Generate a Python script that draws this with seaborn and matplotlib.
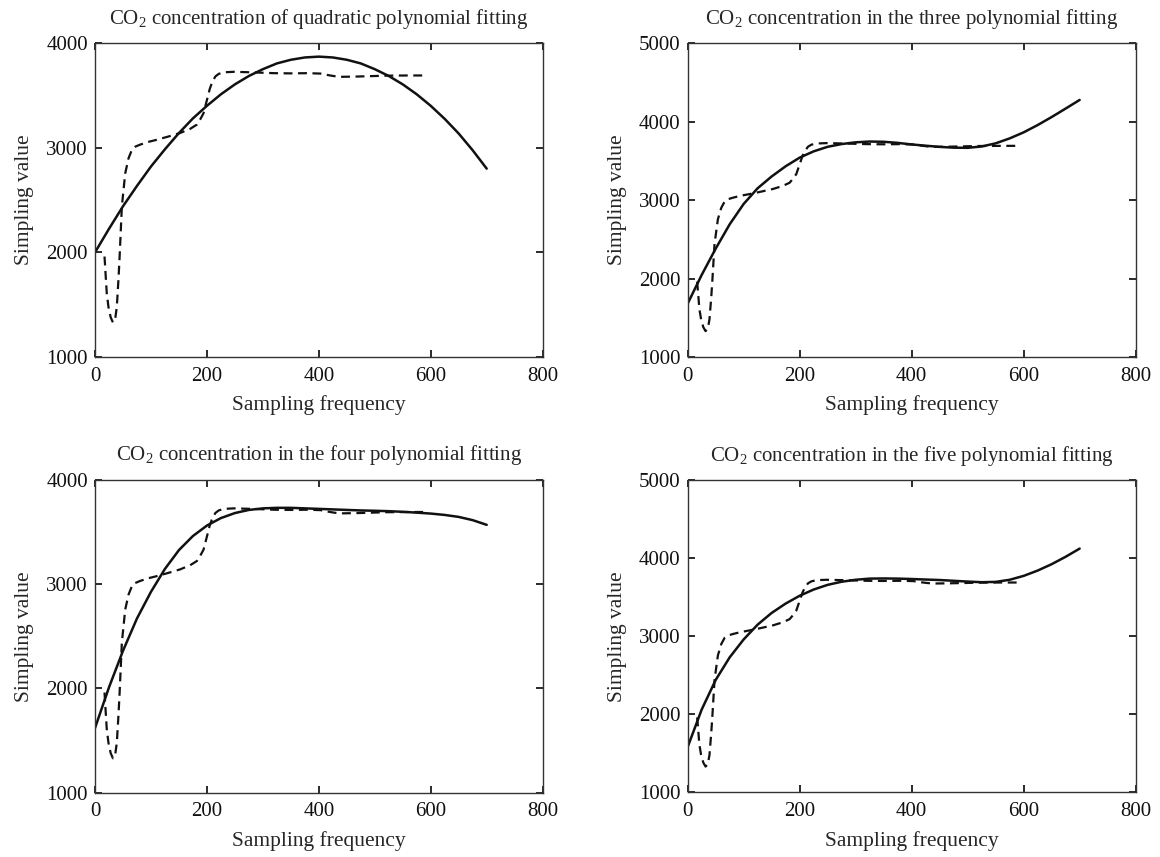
"""Measured CO2 concentration vs. polynomial fits of order 2-5."""

import matplotlib
matplotlib.use("Agg")
import matplotlib.pyplot as plt
import pandas as pd
import seaborn as sns

# measured series (dashed), shared by all four panels
meas_x = [17, 21, 24, 28, 32, 36, 39, 42, 44, 48, 54, 60, 66, 72, 81, 95, 110, 130,
          152, 170, 182, 188, 194, 200, 205, 209, 215, 221, 230, 248, 280, 320, 349,
          380, 403, 415, 427, 439, 470, 520, 560, 594]
meas_y = [1960, 1610, 1480, 1380, 1330, 1360, 1480, 1750, 1960, 2440, 2755, 2900,
          2980, 3010, 3030, 3055, 3075, 3105, 3140, 3180, 3220, 3270, 3330, 3455,
          3560, 3620, 3680, 3705, 3720, 3725, 3720, 3712, 3710, 3712, 3708, 3695,
          3684, 3677, 3680, 3688, 3690, 3690]

# fitted curves (solid), read every 25 samples
fit_x = list(range(0, 701, 25))
fit2_y = [2000, 2225, 2440, 2635, 2820, 2985, 3140, 3280, 3400, 3510, 3605, 3685,
          3750, 3805, 3840, 3862, 3870, 3862, 3840, 3805, 3750, 3685, 3605, 3510,
          3400, 3275, 3135, 2975, 2800]
fit3_y = [1680, 2045, 2380, 2690, 2950, 3150, 3300, 3430, 3540, 3620, 3678, 3713,
          3735, 3745, 3742, 3728, 3708, 3692, 3677, 3667, 3665, 3682, 3722, 3785,
          3862, 3955, 4057, 4165, 4275]
fit4_y = [1620, 2010, 2360, 2670, 2925, 3145, 3325, 3460, 3560, 3632, 3680, 3710,
          3725, 3730, 3730, 3725, 3720, 3715, 3710, 3705, 3702, 3698, 3692, 3684,
          3675, 3662, 3643, 3612, 3567]
fit5_y = [1580, 2060, 2440, 2730, 2960, 3150, 3300, 3420, 3520, 3600, 3660, 3700,
          3725, 3740, 3742, 3740, 3735, 3728, 3722, 3712, 3702, 3694, 3698, 3725,
          3775, 3843, 3925, 4020, 4125]

titles = [
    r"CO$_2$ concentration of quadratic polynomial fitting",
    r"CO$_2$ concentration in the three polynomial fitting",
    r"CO$_2$ concentration in the four polynomial fitting",
    r"CO$_2$ concentration in the five polynomial fitting",
]
y_tops = [4000, 5000, 4000, 5000]

sns.set_theme(style="ticks")
plt.rcParams.update({
    "font.family": ["Liberation Serif", "DejaVu Serif"],
    "mathtext.fontset": "custom",
    "mathtext.rm": "Liberation Serif",
    "mathtext.it": "Liberation Serif",
    "font.size": 15,
    "axes.edgecolor": "#333333",
    "axes.linewidth": 1.0,
    "xtick.direction": "in",
    "ytick.direction": "in",
    "xtick.top": True,
    "ytick.right": True,
    "xtick.major.size": 5,
    "ytick.major.size": 5,
    "xtick.color": "#111111",
    "ytick.color": "#111111",
})

meas = pd.DataFrame({"x": meas_x, "y": meas_y})
fits = [fit2_y, fit3_y, fit4_y, fit5_y]

fig = plt.figure(figsize=(11.6, 8.57), dpi=100)
boxes = [
    [0.0819, 0.5834, 0.3859, 0.3664],
    [0.5928, 0.5834, 0.3862, 0.3664],
    [0.0819, 0.0750, 0.3859, 0.3653],
    [0.5928, 0.0755, 0.3862, 0.3640],
]

for box, fy, title, ytop in zip(boxes, fits, titles, y_tops):
    ax = fig.add_axes(box)
    fit = pd.DataFrame({"x": fit_x, "y": fy})
    sns.lineplot(data=meas, x="x", y="y", ax=ax, color="#111111", lw=1.6,
                 linestyle=(0, (4, 2.5)), estimator=None, sort=False)
    sns.lineplot(data=fit, x="x", y="y", ax=ax, color="#111111", lw=1.8,
                 estimator=None, sort=False)
    ax.set_xlim(0, 800)
    ax.set_ylim(1000, ytop)
    ax.set_xticks(range(0, 801, 200))
    ax.set_yticks(range(1000, ytop + 1, 1000))
    ax.tick_params(axis="x", labelsize=15, pad=7)
    ax.tick_params(axis="y", labelsize=15, pad=5)
    ax.set_xlabel("Sampling frequency", fontsize=15.5, labelpad=7)
    ax.set_ylabel("Simpling value", fontsize=15.5, labelpad=9)
    ax.set_title(title, fontsize=15, pad=14)

fig.savefig("out.png", dpi=100)
